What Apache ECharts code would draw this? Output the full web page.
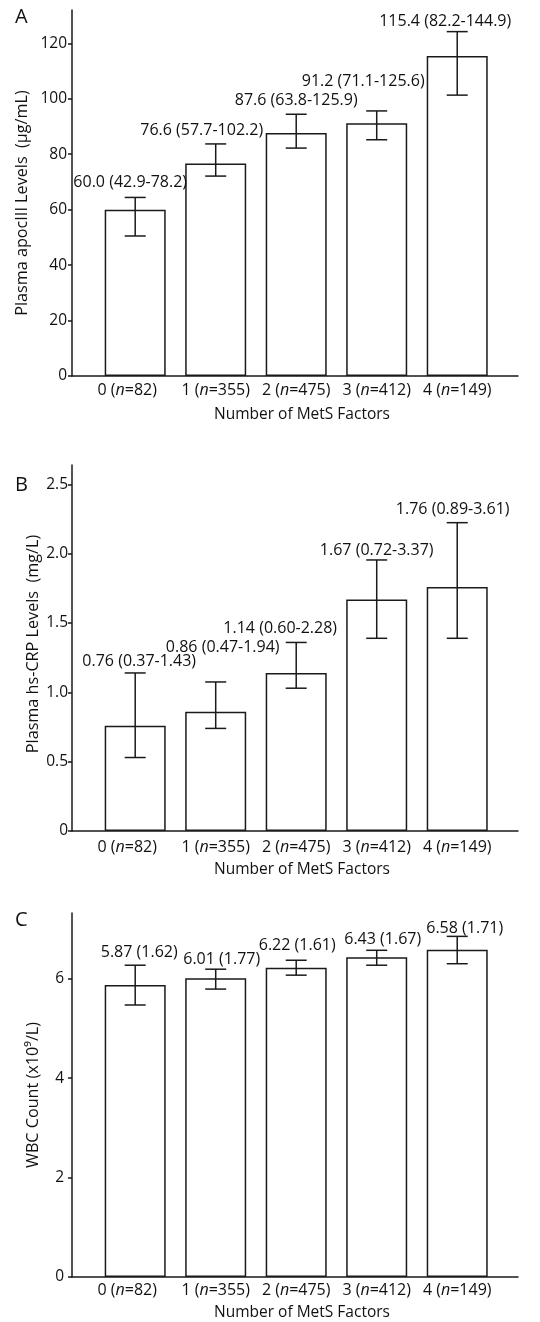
<!DOCTYPE html>
<html><head><meta charset="utf-8">
<script src="https://cdn.jsdelivr.net/npm/echarts@6/dist/echarts.min.js"></script>
<style>html,body{margin:0;padding:0;background:#fff}#c{width:540px;height:1322px}</style>
</head><body><div id="c"></div>
<script>
// ---------- data ----------
const categories = ['0', '1', '2', '3', '4'];
const groupN = [82, 355, 475, 412, 149];
const xAxisTitle = 'Number of MetS Factors';

// Panel A: apoCIII median (IQR) and plotted error bar
const apoMedian = [60.0, 76.6, 87.6, 91.2, 115.4];
const apoQ1 = [42.9, 57.7, 63.8, 71.1, 82.2];
const apoQ3 = [78.2, 102.2, 125.9, 125.6, 144.9];
const apoErrLow = [50.5, 72.1, 82.2, 85.2, 101.3];
const apoErrHigh = [64.4, 83.7, 94.4, 95.6, 124.2];
const apoTicks = [0, 20, 40, 60, 80, 100, 120];
const apoTickLabels = ['0', '20', '40', '60', '80', '100', '120'];

// Panel B: hs-CRP median (IQR)
const crpMedian = [0.76, 0.86, 1.14, 1.67, 1.76];
const crpQ1 = [0.37, 0.47, 0.60, 0.72, 0.89];
const crpQ3 = [1.43, 1.94, 2.28, 3.37, 3.61];
const crpErrLow = [0.53, 0.74, 1.03, 1.39, 1.39];
const crpErrHigh = [1.14, 1.075, 1.36, 1.955, 2.224];
const crpTicks = [0, 0.5, 1, 1.5, 2, 2.5];
const crpTickLabels = ['0', '0.5', '1.0', '1.5', '2.0', '2.5'];

// Panel C: WBC mean (SD)
const wbcMean = [5.87, 6.01, 6.22, 6.43, 6.58];
const wbcSD = [1.62, 1.77, 1.61, 1.67, 1.71];
const wbcErrLow = [5.47, 5.79, 6.07, 6.27, 6.30];
const wbcErrHigh = [6.27, 6.19, 6.37, 6.57, 6.85];
const wbcTicks = [0, 2, 4, 6];
const wbcTickLabels = ['0', '2', '4', '6'];

// ---------- layout (px) ----------
const FONT = 'Open Sans';
const INK = '#1a1a1a';
const apoLabelOffset = [[-5, 15], [-14, 13], [0, 14], [-13.5, 29], [-12, 10]];
const crpLabelOffset = [[4, 11.5], [7, 35], [-16, 14], [0, 10], [-4.5, 13.5]];
const wbcLabelOffset = [[4, 12.5], [6, 9.5], [1, 15], [6, 10.5], [7.5, 7.5]];

const apoLabels = apoMedian.map((v, i) => `${v.toFixed(1)} (${apoQ1[i].toFixed(1)}-${apoQ3[i].toFixed(1)})`);
const crpLabels = crpMedian.map((v, i) => `${v.toFixed(2)} (${crpQ1[i].toFixed(2)}-${crpQ3[i].toFixed(2)})`);
const wbcLabels = wbcMean.map((v, i) => `${v.toFixed(2)} (${wbcSD[i].toFixed(2)})`);

const grids = [
  {left: 72, right: 22, top: 10, height: 366},
  {left: 72, right: 22, top: 465, height: 366},
  {left: 72, right: 22, top: 913, height: 366.3}
];

const txt = {fontFamily: FONT, fontSize: 16, color: '#111'};
function xAxis(gridIndex, labelMargin, nameGap) {
  return {
    type: 'value', gridIndex, min: -0.785, max: 4.755,
    axisLine: {show: true, onZero: false, lineStyle: {color: INK, width: 1.5}},
    axisTick: {show: false},
    splitLine: {show: false},
    axisLabel: {
      customValues: [0, 1, 2, 3, 4], margin: labelMargin,
      formatter: v => `{a|${categories[v]} (}{i|n}{${v === 0 ? 'e' : 'a'}|=${groupN[v]})}`,
      rich: {
        a: txt,
        e: Object.assign({}, txt, {padding: [0, 16, 0, 0]}),
        i: Object.assign({}, txt, {fontStyle: 'italic'})
      }
    },
    name: xAxisTitle, nameLocation: 'middle', nameGap, nameMoveOverlap: false,
    nameTextStyle: {fontFamily: FONT, fontSize: 15.5, color: '#111', padding: [0, 0, 0, 14]}
  };
}

function yAxis(gridIndex, max, ticks, tickLabels, name, nameGap, labelMargin, namePad) {
  return {
    type: 'value', gridIndex, min: 0, max,
    axisLine: {show: true, onZero: false, lineStyle: {color: INK, width: 1.5}},
    axisTick: {show: true, length: 4, customValues: ticks, lineStyle: {color: INK, width: 1.5}},
    splitLine: {show: false},
    axisLabel: {
      customValues: ticks, margin: labelMargin,
      formatter: v => {
        const k = ticks.findIndex(t => Math.abs(t - v) < 1e-9);
        return k >= 0 ? tickLabels[k] : '';
      },
      fontFamily: FONT, fontSize: 15.5, color: '#111'
    },
    name, nameLocation: 'middle', nameGap, nameRotate: 90, nameMoveOverlap: false,
    nameTextStyle: {fontFamily: FONT, fontSize: 16.2, color: '#111', padding: namePad}
  };
}

function barSeries(idx, values) {
  return {
    type: 'bar', xAxisIndex: idx, yAxisIndex: idx, barWidth: 61,
    data: values.map((v, i) => [i, v]),
    itemStyle: {color: '#fff', borderColor: INK, borderWidth: 1.5},
    silent: true, animation: false
  };
}

function errSeries(idx, lows, highs, labels, offsets, fontSize) {
  return {
    type: 'custom', xAxisIndex: idx, yAxisIndex: idx, z: 5,
    encode: {x: 0, y: [1, 2]},
    data: lows.map((lo, i) => [i, lo, highs[i]]),
    renderItem: (params, api) => {
      const x = api.value(0);
      const top = api.coord([x, api.value(2)]);
      const bot = api.coord([x, api.value(1)]);
      const half = 10.5;
      const ls = {stroke: INK, lineWidth: 1.5};
      const off = offsets[params.dataIndex];
      return {
        type: 'group', children: [
          {type: 'line', shape: {x1: top[0], y1: top[1], x2: bot[0], y2: bot[1]}, style: ls},
          {type: 'line', shape: {x1: top[0] - half, y1: top[1], x2: top[0] + half, y2: top[1]}, style: ls},
          {type: 'line', shape: {x1: bot[0] - half, y1: bot[1], x2: bot[0] + half, y2: bot[1]}, style: ls},
          {type: 'text', style: {
            text: labels[params.dataIndex], x: top[0] + off[0], y: top[1] - off[1],
            align: 'center', verticalAlign: 'middle',
            fontFamily: FONT, fontSize, fill: '#111'
          }}
        ]
      };
    },
    silent: true, animation: false
  };
}

const chart = echarts.init(document.getElementById('c'), null, {renderer: 'canvas'});
chart.setOption({
  backgroundColor: '#fff',
  animation: false,
  grid: grids,
  xAxis: [xAxis(0, 6.5, 31), xAxis(1, 8, 30.5), xAxis(2, 5, 28)],
  yAxis: [
    yAxis(0, 132, apoTicks, apoTickLabels, 'Plasma apocIII Levels  (\u00b5g/mL)', 42, 5, [0, 20, 0, 0]),
    yAxis(1, 2.64, crpTicks, crpTickLabels, 'Plasma hs-CRP Levels  (mg/L)', 30.5, 4, [0, 0, 0, 8]),
    yAxis(2, 7.32, wbcTicks, wbcTickLabels, 'WBC Count (x10\u2079/L)', 30.5, 8, 0)
  ],
  series: [
    barSeries(0, apoMedian), errSeries(0, apoErrLow, apoErrHigh, apoLabels, apoLabelOffset, 16),
    barSeries(1, crpMedian), errSeries(1, crpErrLow, crpErrHigh, crpLabels, crpLabelOffset, 16),
    barSeries(2, wbcMean), errSeries(2, wbcErrLow, wbcErrHigh, wbcLabels, wbcLabelOffset, 16)
  ],
  graphic: [
    {type: 'text', left: 15, top: 7, style: {text: 'A', fontFamily: FONT, fontSize: 20, fill: '#111'}},
    {type: 'text', left: 15, top: 475, style: {text: 'B', fontFamily: FONT, fontSize: 20, fill: '#111'}},
    {type: 'text', left: 15, top: 910, style: {text: 'C', fontFamily: FONT, fontSize: 20, fill: '#111'}}
  ]
});
</script></body></html>
